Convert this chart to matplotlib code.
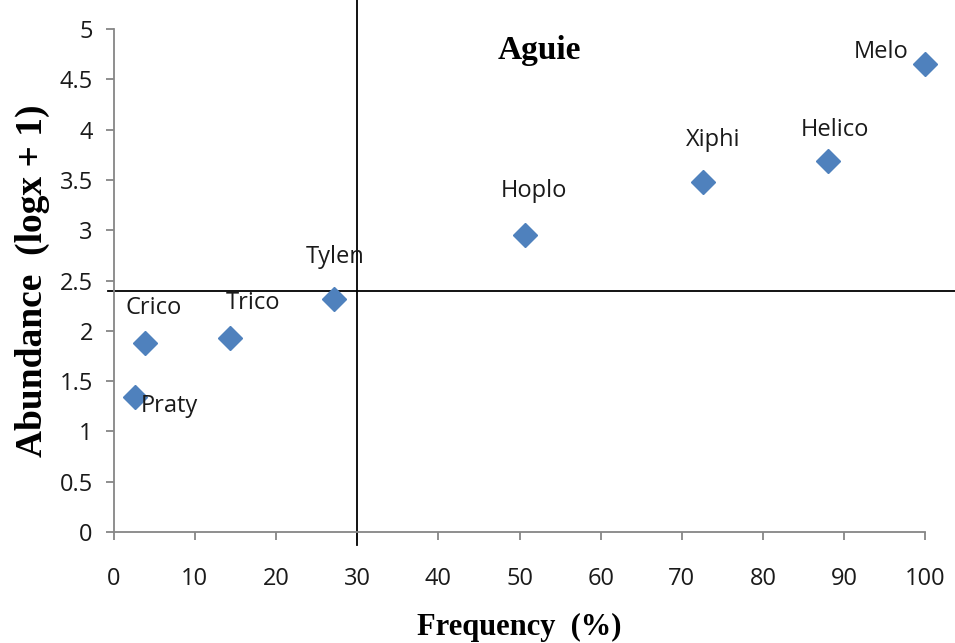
import matplotlib.pyplot as plt
import numpy as np

# donnees
genres = ['Praty', 'Crico', 'Trico', 'Tylen', 'Hoplo', 'Xiphi', 'Helico', 'Melo']
frequence = [2.6, 3.9, 14.3, 27.1, 50.7, 72.6, 88.0, 100.0]
abondance = [1.34, 1.88, 1.93, 2.32, 2.95, 3.48, 3.69, 4.65]
seuil_freq = 30
seuil_abond = 2.4

# decalage des etiquettes (points)
decalages = [(25, -6), (6, 25), (17, 25), (1, 30), (6, 32), (7, 30), (5, 22), (-32, 9)]

grey = '#868686'
fig = plt.figure(figsize=(9.55, 6.43), dpi=100)
ax = fig.add_axes([0.119, 0.1726, 0.850, 0.7823])

ax.plot(frequence, abondance, 'D', color='#4F81BD', markersize=12.5, zorder=3, clip_on=False)

for g, x, y, d in zip(genres, frequence, abondance, decalages):
    ax.annotate(g, (x, y), xytext=d, textcoords='offset points', ha='center', va='center',
                fontsize=17, family='Open Sans', color='#1a1a1a')

# lignes de seuil
ax.plot([-0.75, 103.7], [seuil_abond, seuil_abond], color='black', lw=1.3, clip_on=False, zorder=2)
ax.plot([seuil_freq, seuil_freq], [-0.13, 5.3], color='black', lw=1.3, clip_on=False, zorder=2)

ax.text(52.5, 4.79, 'Aguie', fontsize=24, fontweight='bold', family='Liberation Serif', ha='center', va='center')

ax.set_xlim(0, 100)
ax.set_ylim(0, 5)
ax.set_xticks(np.arange(0, 101, 10))
ax.set_yticks(np.arange(0, 5.01, 0.5))
ax.set_yticklabels(['0', '0.5', '1', '1.5', '2', '2.5', '3', '3.5', '4', '4.5', '5'])

for s in ['top', 'right']:
    ax.spines[s].set_visible(False)
for s in ['left', 'bottom']:
    ax.spines[s].set_color(grey)
    ax.spines[s].set_linewidth(1.3)

ax.tick_params(axis='x', direction='out', length=6, width=1.3, color=grey, pad=19, labelsize=17)
ax.tick_params(axis='y', direction='out', length=6, width=1.3, color=grey, pad=9, labelsize=17)
for lab in ax.get_xticklabels() + ax.get_yticklabels():
    lab.set_family('Open Sans')
    lab.set_color('#1a1a1a')

ax.set_xlabel('Frequency  (%)', fontsize=22, fontweight='bold', family='Liberation Serif', labelpad=16)
ax.set_ylabel('Abundance  (logx + 1)', fontsize=27, fontweight='bold', family='Liberation Serif', labelpad=7)

fig.savefig('out.png', dpi=100)
